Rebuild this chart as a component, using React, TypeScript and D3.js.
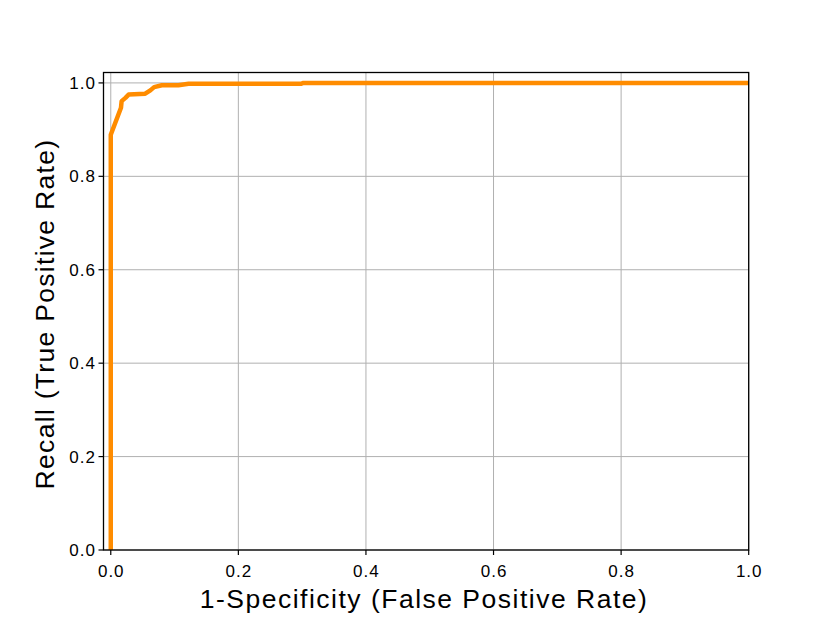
import React from "react";
import * as d3 from "d3";

const fpr = [0, 0, 0.016, 0.017, 0.023, 0.028, 0.054, 0.062, 0.068, 0.08, 0.106, 0.122, 0.298, 0.302, 1.0];
const tpr = [0, 0.889, 0.947, 0.961, 0.968, 0.975, 0.977, 0.984, 0.991, 0.995, 0.995, 0.998, 0.998, 1.0, 1.0];
const xTicks = [0, 0.2, 0.4, 0.6, 0.8, 1.0];
const yTicks = [0, 0.2, 0.4, 0.6, 0.8, 1.0];
const xLabel = "1-Specificity (False Positive Rate)";
const yLabel = "Recall (True Positive Rate)";

const W = 831;
const H = 618;
const L = 103.5;
const R = 748.7;
const T = 72.5;
const B = 550;

export default function App() {
  const x = d3.scaleLinear().domain([-0.0114, 1.0]).range([L, R]);
  const y = d3.scaleLinear().domain([0, 1.0223]).range([B, T]);
  const fmt = d3.format(".1f");
  const pts: [number, number][] = fpr.map((f, i) => [f, tpr[i]]);
  const line = d3
    .line<[number, number]>()
    .x((d) => x(d[0]))
    .y((d) => y(d[1]));
  const font = "'Liberation Sans', Arial, sans-serif";
  return (
    <svg
      width={W}
      height={H}
      style={{ position: "absolute", left: 0, top: 0, background: "#fff" }}
      fontFamily={font}
    >
      <defs>
        <clipPath id="plot">
          <rect x={L} y={T} width={R - L} height={B - T} />
        </clipPath>
      </defs>
      <rect x={0} y={0} width={W} height={H} fill="#fff" />
      {xTicks.map((t) => (
        <line key={"gx" + t} x1={x(t)} x2={x(t)} y1={T} y2={B} stroke="#b0b0b0" strokeWidth={1} />
      ))}
      {yTicks.map((t) => (
        <line key={"gy" + t} x1={L} x2={R} y1={y(t)} y2={y(t)} stroke="#b0b0b0" strokeWidth={1} />
      ))}
      <path
        d={line(pts) || ""}
        fill="none"
        stroke="#ff8c00"
        strokeWidth={4.5}
        strokeLinejoin="round"
        clipPath="url(#plot)"
      />
      <rect x={L} y={T} width={R - L} height={B - T} fill="none" stroke="#000" strokeWidth={1.3} />
      {xTicks.map((t) => (
        <g key={"tx" + t}>
          <line x1={x(t)} x2={x(t)} y1={B} y2={B + 5} stroke="#000" strokeWidth={1.2} />
          <text x={x(t) + 0.5} y={577} textAnchor="middle" fontSize={17} letterSpacing={1} fill="#000">
            {fmt(t)}
          </text>
        </g>
      ))}
      {yTicks.map((t) => (
        <g key={"ty" + t}>
          <line x1={L - 5} x2={L} y1={y(t)} y2={y(t)} stroke="#000" strokeWidth={1.2} />
          <text x={96} y={y(t) + 6} textAnchor="end" fontSize={17} letterSpacing={1} fill="#000">
            {fmt(t)}
          </text>
        </g>
      ))}
      <text x={424} y={608} textAnchor="middle" fontSize={26.5} letterSpacing={1.5} fill="#000">
        {xLabel}
      </text>
      <text
        transform={`translate(54, 314) rotate(-90)`}
        textAnchor="middle"
        fontSize={26.5}
        letterSpacing={1.3}
        fill="#000"
      >
        {yLabel}
      </text>
    </svg>
  );
}
